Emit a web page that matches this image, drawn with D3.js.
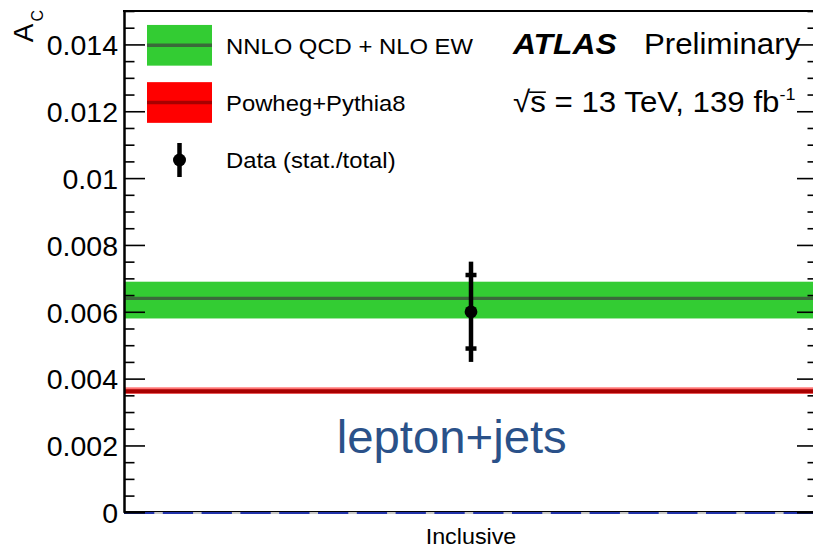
<!DOCTYPE html>
<html>
<head>
<meta charset="utf-8">
<script src="https://cdn.jsdelivr.net/npm/d3@7"></script>
<style>
  html, body { margin: 0; padding: 0; background: #fff; }
  svg { display: block; font-family: "Liberation Sans", Arial, Helvetica, sans-serif; }
</style>
</head>
<body>
<svg id="chart" width="813" height="548"></svg>
<script>
// ---- data ----
const categories   = ["Inclusive"];
const dataValue    = [0.0060];
const dataStat     = [0.0011];
const dataTotal    = [0.0015];
const nnloValue    = [0.0064];
const nnloUp       = [0.0069];
const nnloDown     = [0.0058];
const powhegValue  = [0.00362];
const powhegUp     = [0.00374];
const powhegDown   = [0.00354];
const majorTicks   = [0, 0.002, 0.004, 0.006, 0.008, 0.01, 0.012, 0.014];
const tickLabels   = ["0", "0.002", "0.004", "0.006", "0.008", "0.01", "0.012", "0.014"];
const minorStep    = 0.0005;
const legendNames  = ["NNLO QCD + NLO EW", "Powheg+Pythia8", "Data (stat./total)"];

// ---- layout ----
const W = 813, H = 548;
const frame = { left: 124, right: 818, top: 11, bottom: 512.3 };
const yMax = 0.015;
const SX = 1.06; // horizontal text stretch

const svg = d3.select("#chart");

const x = d3.scaleBand().domain(categories).range([frame.left, frame.right]);
const y = d3.scaleLinear().domain([0, yMax]).range([frame.bottom, frame.top]);
const minorTicks = d3.range(0, yMax + 1e-9, minorStep).filter(v => !majorTicks.some(m => Math.abs(m - v) < 1e-9));

const colors = {
  green: "#33cc33", greenLine: "#3a6a3a",
  red: "#ff0000", redLine: "#a80000",
  blue: "#2a5189"
};

function stretchedText(parent, px, py, anchor, sx = SX) {
  const g = parent.append("g").attr("transform", `translate(${px},${py}) scale(${sx},1)`);
  return g.append("text").attr("text-anchor", anchor).attr("fill", "#000");
}

// ---- NNLO band ----
const plot = svg.append("g");
plot.selectAll("rect.nnlo").data(categories).join("rect")
  .attr("class", "nnlo")
  .attr("x", d => x(d)).attr("width", x.bandwidth())
  .attr("y", (d, i) => y(nnloUp[i]))
  .attr("height", (d, i) => y(nnloDown[i]) - y(nnloUp[i]))
  .attr("fill", colors.green);
plot.selectAll("line.nnlo").data(categories).join("line")
  .attr("class", "nnlo")
  .attr("x1", d => x(d)).attr("x2", d => x(d) + x.bandwidth())
  .attr("y1", (d, i) => y(nnloValue[i])).attr("y2", (d, i) => y(nnloValue[i]))
  .attr("stroke", colors.greenLine).attr("stroke-width", 3.3);

// ---- Powheg band ----
plot.selectAll("rect.powheg").data(categories).join("rect")
  .attr("class", "powheg")
  .attr("x", d => x(d)).attr("width", x.bandwidth())
  .attr("y", (d, i) => y(powhegUp[i]))
  .attr("height", (d, i) => y(powhegDown[i]) - y(powhegUp[i]))
  .attr("fill", colors.red).attr("opacity", 0.55);
plot.selectAll("line.powheg").data(categories).join("line")
  .attr("class", "powheg")
  .attr("x1", d => x(d)).attr("x2", d => x(d) + x.bandwidth())
  .attr("y1", (d, i) => y(powhegValue[i])).attr("y2", (d, i) => y(powhegValue[i]))
  .attr("stroke", colors.redLine).attr("stroke-width", 4);

// ---- zero line (dashed) ----
plot.append("line")
  .attr("x1", frame.left).attr("x2", frame.right)
  .attr("y1", y(0) + 0.6).attr("y2", y(0) + 0.6)
  .attr("stroke", "#c8c8c8").attr("stroke-width", 2);
plot.append("line")
  .attr("x1", frame.left).attr("x2", frame.right)
  .attr("y1", y(0) + 0.6).attr("y2", y(0) + 0.6)
  .attr("stroke", "#2233aa").attr("stroke-width", 2)
  .attr("stroke-dasharray", "30.3,8.5");
plot.append("line")
  .attr("x1", frame.left).attr("x2", frame.right)
  .attr("y1", y(0) - 0.8).attr("y2", y(0) - 0.8)
  .attr("stroke", "#000").attr("stroke-width", 1);

// ---- data point ----
const cx = d => x(d) + x.bandwidth() / 2;
const pts = plot.selectAll("g.data").data(categories).join("g").attr("class", "data");
pts.append("line")
  .attr("x1", d => cx(d)).attr("x2", d => cx(d))
  .attr("y1", (d, i) => y(dataValue[i] + dataTotal[i]))
  .attr("y2", (d, i) => y(dataValue[i] - dataTotal[i]))
  .attr("stroke", "#000").attr("stroke-width", 4.5);
[1, -1].forEach(s => {
  pts.append("line")
    .attr("x1", d => cx(d) - 5.5).attr("x2", d => cx(d) + 5.5)
    .attr("y1", (d, i) => y(dataValue[i] + s * dataStat[i]))
    .attr("y2", (d, i) => y(dataValue[i] + s * dataStat[i]))
    .attr("stroke", "#000").attr("stroke-width", 4.5);
});
pts.append("circle")
  .attr("cx", d => cx(d)).attr("cy", (d, i) => y(dataValue[i]))
  .attr("r", 6.4).attr("fill", "#000");

// ---- axes ----
const fmt = v => tickLabels[majorTicks.findIndex(m => Math.abs(m - v) < 1e-9)];
function styleAxis(g) {
  g.select(".domain").attr("stroke", "#000").attr("stroke-width", 2);
  g.selectAll(".tick line").attr("stroke", "#000").attr("stroke-width", 1.6);
}
const yAxis = svg.append("g").attr("transform", `translate(${frame.left},0)`)
  .call(d3.axisLeft(y).tickValues(majorTicks).tickFormat(fmt).tickSize(-21).tickSizeOuter(0).tickPadding(6))
  .call(styleAxis);
yAxis.selectAll(".tick text").attr("font-size", 28.5).attr("fill", "#000")
  .attr("font-family", "'Liberation Sans', Arial, sans-serif").attr("dy", "0.36em");
svg.append("g").attr("transform", `translate(${frame.left},0)`)
  .call(d3.axisLeft(y).tickValues(minorTicks).tickFormat("").tickSize(-10.5).tickSizeOuter(0))
  .call(styleAxis);

svg.append("g").attr("transform", `translate(${frame.right},0)`)
  .call(d3.axisRight(y).tickValues(majorTicks).tickFormat("").tickSize(-21).tickSizeOuter(0))
  .call(styleAxis);
svg.append("g").attr("transform", `translate(${frame.right},0)`)
  .call(d3.axisRight(y).tickValues(minorTicks).tickFormat("").tickSize(-10.5).tickSizeOuter(0))
  .call(styleAxis);

// top frame line
svg.append("line")
  .attr("x1", frame.left - 1).attr("x2", frame.right)
  .attr("y1", frame.top).attr("y2", frame.top)
  .attr("stroke", "#000").attr("stroke-width", 2);

// x category label
categories.forEach(c => {
  stretchedText(svg, cx(c), 543.5, "middle").attr("font-size", 22).text(c);
});

// y title A_C
const yTitle = svg.append("text")
  .attr("transform", "translate(33.3,10) rotate(-90)")
  .attr("text-anchor", "end").attr("fill", "#000");
yTitle.append("tspan").attr("font-size", 28).text("A");
yTitle.append("tspan").attr("font-size", 16).attr("dy", 9.5).attr("dx", 2).text("C");

// ---- legend ----
const leg = svg.append("g");
const boxX = 147, boxW = 65, boxH = 40.7;
const rowY = [45.3, 102.5, 160];
[[colors.green, colors.greenLine], [colors.red, colors.redLine]].forEach(([fill, line], i) => {
  leg.append("rect").attr("x", boxX).attr("y", rowY[i] - boxH / 2)
    .attr("width", boxW).attr("height", boxH).attr("fill", fill);
  leg.append("line").attr("x1", boxX).attr("x2", boxX + boxW)
    .attr("y1", rowY[i]).attr("y2", rowY[i])
    .attr("stroke", line).attr("stroke-width", 3.5);
});
leg.append("line").attr("x1", boxX + boxW / 2).attr("x2", boxX + boxW / 2)
  .attr("y1", rowY[2] - 17).attr("y2", rowY[2] + 17)
  .attr("stroke", "#000").attr("stroke-width", 4.5);
leg.append("circle").attr("cx", boxX + boxW / 2).attr("cy", rowY[2]).attr("r", 6.5).attr("fill", "#000");
legendNames.forEach((n, i) => {
  stretchedText(leg, 226, rowY[i] + 8.2, "start").attr("font-size", 22.5).text(n);
});

// ---- ATLAS label ----
stretchedText(svg, 513, 54.3, "start").attr("font-size", 30)
  .attr("font-weight", "bold").attr("font-style", "italic").text("ATLAS");
stretchedText(svg, 644, 54.3, "start").attr("font-size", 29.5).text("Preliminary");

const eText = stretchedText(svg, 513, 111.7, "start").attr("font-size", 29.5);
eText.append("tspan").text("√s = 13 TeV, 139 fb");
eText.append("tspan").attr("font-size", 17).attr("dy", -11.5).text("-1");
{
  const node = eText.node();
  const e0 = node.getExtentOfChar(0), e1 = node.getExtentOfChar(1);
  d3.select(node.parentNode).append("line")
    .attr("x1", e0.x + e0.width - 1).attr("x2", e1.x + e1.width)
    .attr("y1", -19.5).attr("y2", -19.5)
    .attr("stroke", "#000").attr("stroke-width", 1.6);
}

// ---- channel label ----
stretchedText(svg, 451.7, 453, "middle", 1.04).attr("font-size", 45.5)
  .attr("fill", colors.blue).text("lepton+jets");
</script>
</body>
</html>
